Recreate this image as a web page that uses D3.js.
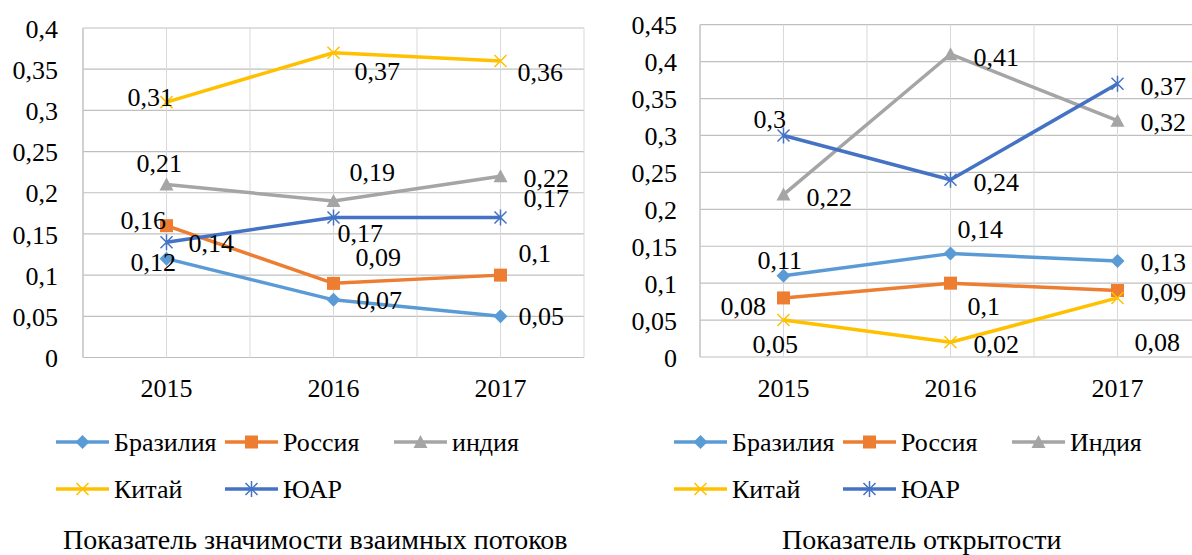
<!DOCTYPE html>
<meta charset='utf-8'>
<head>
    <title>BRICS</title>
    <script src='https://cdn.jsdelivr.net/npm/d3@7'></script>
</head>

<style>
    body { margin: 0; background: white; }
    text {
        font-family: 'Liberation Serif', 'DejaVu Serif', serif;
        fill: #000;
    }
    .hgrid { stroke: #bfbfbf; stroke-width: 1.2px; }
    .vgrid { stroke: #d9d9d9; stroke-width: 1px; }
    .series path.line { fill: none; stroke-width: 3.5px; stroke-linejoin: round; }
</style>

<svg></svg>

<script>
    // --- data ---
    var years = ['2015', '2016', '2017'];

    var flowNames = ['Бразилия', 'Россия', 'индия', 'Китай', 'ЮАР'];
    var flowBrazil = [0.12, 0.07, 0.05];
    var flowRussia = [0.16, 0.09, 0.1];
    var flowIndia = [0.21, 0.19, 0.22];
    var flowChina = [0.31, 0.37, 0.36];
    var flowSouthAfrica = [0.14, 0.17, 0.17];
    var flowTicks = [0, 0.05, 0.1, 0.15, 0.2, 0.25, 0.3, 0.35, 0.4];
    var flowTitle = 'Показатель значимости взаимных потоков';

    var openNames = ['Бразилия', 'Россия', 'Индия', 'Китай', 'ЮАР'];
    var openBrazil = [0.11, 0.14, 0.13];
    var openRussia = [0.08, 0.1, 0.09];
    var openIndia = [0.22, 0.41, 0.32];
    var openChina = [0.05, 0.02, 0.08];
    var openSouthAfrica = [0.3, 0.24, 0.37];
    var openTicks = [0, 0.05, 0.1, 0.15, 0.2, 0.25, 0.3, 0.35, 0.4, 0.45];
    var openTitle = 'Показатель открытости';

    // --- style per series ---
    var colors = ['#5B9BD5', '#ED7D31', '#A5A5A5', '#FFC000', '#4472C4'];
    var markers = ['diamond', 'square', 'triangle', 'x', 'star'];

    // data label placement: [dx of text start, dy of text middle] from the point
    var flowLabelPos = [
        [[-36, 3], [23, 0], [18, 0]],
        [[-46, -6], [22, -26], [18, -22]],
        [[-30, -22], [16, -29], [23, 2]],
        [[-39, -5], [21, 18], [17, 11]],
        [[22, 1], [4, 15], [23, -20]]
    ];
    var openLabelPos = [
        [[-26, -16], [7, -25], [23, 1]],
        [[-63, 8], [17, 23], [23, 1]],
        [[23, 2], [23, 3], [23, 1]],
        [[-31, 24], [23, 2], [17, 44]],
        [[-30, -17], [23, 2], [23, 2]]
    ];

    var fmt = d3.formatLocale({decimal: ',', thousands: ' ', grouping: [3], currency: ['', '']}).format('~g');

    var svg = d3.select('svg').attr('width', 1192).attr('height', 555);

    function drawMarker(g, type, color) {
        if (type === 'diamond') {
            g.append('path').attr('d', 'M0,-7L7,0L0,7L-7,0Z').attr('fill', color);
        } else if (type === 'square') {
            g.append('rect').attr('x', -6.5).attr('y', -6.5).attr('width', 13).attr('height', 13).attr('fill', color);
        } else if (type === 'triangle') {
            g.append('path').attr('d', 'M0,-7L7,6L-7,6Z').attr('fill', color);
        } else if (type === 'x') {
            g.append('path').attr('d', 'M-6,-6L6,6M-6,6L6,-6').attr('stroke', color).attr('stroke-width', 1.5);
        } else {
            g.append('path').attr('d', 'M-6,-6L6,6M-6,6L6,-6M0,-8L0,8').attr('stroke', color).attr('stroke-width', 1.5);
        }
    }

    function drawChart(cfg) {
        var g = svg.append('g');

        var x = d3.scaleBand().domain(years).range([cfg.left, cfg.right]).paddingInner(0).paddingOuter(0);
        var y = d3.scaleLinear().domain([0, cfg.ticks[cfg.ticks.length - 1]]).range([cfg.bottom, cfg.top]);
        var cx = function(d) { return x(d) + x.bandwidth() / 2; };

        // gridlines
        g.selectAll('.hgrid').data(cfg.ticks).enter().append('line')
            .attr('class', 'hgrid')
            .attr('x1', cfg.left).attr('x2', cfg.right)
            .attr('y1', function(d) { return y(d); }).attr('y2', function(d) { return y(d); });

        var vlines = [cfg.left, cfg.right].concat(years.map(cx)).concat(years.slice(1).map(function(d) { return x(d); }));
        g.selectAll('.vgrid').data(vlines).enter().append('line')
            .attr('class', 'vgrid')
            .attr('x1', function(d) { return d; }).attr('x2', function(d) { return d; })
            .attr('y1', cfg.top).attr('y2', cfg.bottom);
        g.append('line').attr('class', 'hgrid')
            .attr('x1', cfg.left).attr('x2', cfg.left).attr('y1', cfg.top).attr('y2', cfg.bottom);

        // y axis labels
        var yAxis = d3.axisLeft(y).tickValues(cfg.ticks).tickFormat(fmt).tickSize(0).tickPadding(0);
        var ya = g.append('g').attr('transform', 'translate(' + cfg.yLabelX + ',0)').call(yAxis)
            .attr('font-family', null).attr('font-size', null);
        ya.select('.domain').remove();
        ya.selectAll('text').attr('font-size', 26).attr('dy', '0.35em');

        // x axis labels
        var xAxis = d3.axisBottom(x).tickSize(0).tickPadding(0);
        var xa = g.append('g').attr('transform', 'translate(0,' + cfg.xLabelY + ')').call(xAxis)
            .attr('font-family', null).attr('font-size', null);
        xa.select('.domain').remove();
        xa.selectAll('text').attr('font-size', 26).attr('dy', 0);

        // series
        var line = d3.line().x(function(d, i) { return cx(years[i]); }).y(function(d) { return y(d); });
        cfg.series.forEach(function(vals, si) {
            var s = g.append('g').attr('class', 'series');
            s.append('path').attr('class', 'line').attr('d', line(vals)).attr('stroke', colors[si]);
            vals.forEach(function(v, i) {
                var m = s.append('g').attr('transform', 'translate(' + cx(years[i]) + ',' + y(v) + ')');
                drawMarker(m, markers[si], colors[si]);
            });
        });

        // data labels
        cfg.series.forEach(function(vals, si) {
            vals.forEach(function(v, i) {
                var p = cfg.labelPos[si][i];
                g.append('text')
                    .attr('x', cx(years[i]) + p[0])
                    .attr('y', y(v) + p[1])
                    .attr('dy', '0.35em')
                    .attr('font-size', 26)
                    .text(fmt(v));
            });
        });

        // legend
        cfg.names.forEach(function(name, i) {
            var lx = cfg.legendX + (i % 3) * 169;
            var ly = cfg.legendY[Math.floor(i / 3)];
            var lg = g.append('g');
            lg.append('line').attr('x1', lx).attr('x2', lx + 53).attr('y1', ly).attr('y2', ly)
                .attr('stroke', colors[i]).attr('stroke-width', 3.5);
            drawMarker(lg.append('g').attr('transform', 'translate(' + (lx + 26.5) + ',' + ly + ')'), markers[i], colors[i]);
            lg.append('text').attr('x', lx + 58).attr('y', ly).attr('dy', '0.35em')
                .attr('font-size', 26).text(name);
        });

        // title
        g.append('text').attr('x', cfg.titleX).attr('y', 549).attr('font-size', 28).text(cfg.title);
    }

    drawChart({
        left: 83, right: 584, top: 28, bottom: 357.5,
        ticks: flowTicks, yLabelX: 58, xLabelY: 397,
        series: [flowBrazil, flowRussia, flowIndia, flowChina, flowSouthAfrica],
        labelPos: flowLabelPos, names: flowNames,
        legendX: 56, legendY: [442, 489],
        title: flowTitle, titleX: 63
    });

    drawChart({
        left: 700, right: 1201, top: 24.7, bottom: 357,
        ticks: openTicks, yLabelX: 677, xLabelY: 397,
        series: [openBrazil, openRussia, openIndia, openChina, openSouthAfrica],
        labelPos: openLabelPos, names: openNames,
        legendX: 674, legendY: [442, 489],
        title: openTitle, titleX: 782
    });
</script>
